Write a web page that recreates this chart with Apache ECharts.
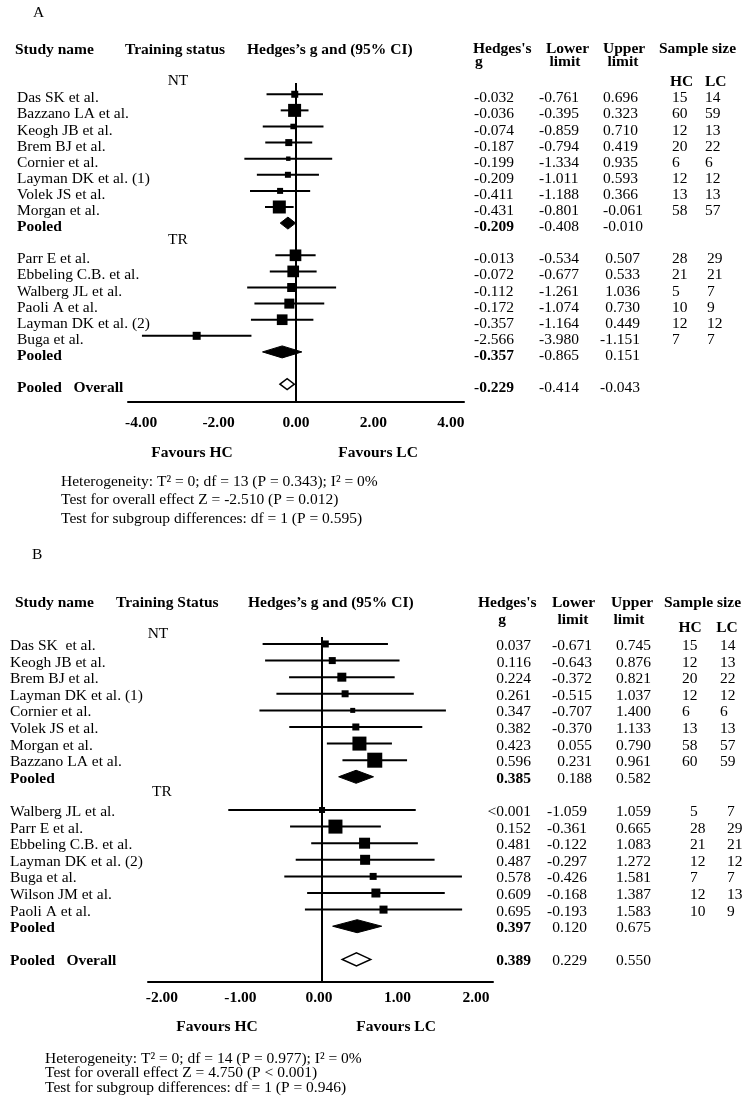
<!DOCTYPE html>
<html>
<head>
<meta charset="utf-8">
<script src="https://cdn.jsdelivr.net/npm/echarts@6/dist/echarts.min.js"></script>
<style>html,body{margin:0;padding:0;background:#fff}#c{width:749px;height:1107px}</style>
</head>
<body>
<div id="c"></div>
<script>
// ---------------- DATA: Panel A ----------------
const A_NT_names = ['Das SK et al.', 'Bazzano LA et al.', 'Keogh JB et al.', 'Brem BJ et al.', 'Cornier et al.', 'Layman DK et al. (1)', 'Volek JS et al.', 'Morgan et al.'];
const A_NT_g  = [-0.032, -0.036, -0.074, -0.187, -0.199, -0.209, -0.411, -0.431];
const A_NT_lo = [-0.761, -0.395, -0.859, -0.794, -1.334, -1.011, -1.188, -0.801];
const A_NT_hi = [0.696, 0.323, 0.710, 0.419, 0.935, 0.593, 0.366, -0.061];
const A_NT_hc = [15, 60, 12, 20, 6, 12, 13, 58];
const A_NT_lc = [14, 59, 13, 22, 6, 12, 13, 57];
const A_NT_weight = [4.5, 15.5, 2.8, 4.5, 1.8, 3.3, 3.3, 15.5];
const A_NT_pooled = [-0.209, -0.408, -0.010];

const A_TR_names = ['Parr E et al.', 'Ebbeling C.B. et al.', 'Walberg JL et al.', 'Paoli A et al.', 'Layman DK et al. (2)', 'Buga et al.'];
const A_TR_g  = [-0.013, -0.072, -0.112, -0.172, -0.357, -2.566];
const A_TR_lo = [-0.534, -0.677, -1.261, -1.074, -1.164, -3.980];
const A_TR_hi = [0.507, 0.533, 1.036, 0.730, 0.449, -1.151];
const A_TR_hc = [28, 21, 5, 10, 12, 7];
const A_TR_lc = [29, 21, 7, 9, 12, 7];
const A_TR_weight = [12.5, 12.5, 7.4, 9.2, 10.5, 5.9];
const A_TR_pooled = [-0.357, -0.865, 0.151];
const A_overall = [-0.229, -0.414, -0.043];
const A_tickValues = [-4, -2, 0, 2, 4];
const A_notes = ['Heterogeneity: T\u00B2 = 0; df = 13 (P = 0.343); I\u00B2 = 0%', 'Test for overall effect Z = -2.510 (P = 0.012)', 'Test for subgroup differences: df = 1 (P = 0.595)'];

// ---------------- DATA: Panel B ----------------
const B_NT_names = ['Das SK  et al.', 'Keogh JB et al.', 'Brem BJ et al.', 'Layman DK et al. (1)', 'Cornier et al.', 'Volek JS et al.', 'Morgan et al.', 'Bazzano LA et al.'];
const B_NT_g  = [0.037, 0.116, 0.224, 0.261, 0.347, 0.382, 0.423, 0.596];
const B_NT_lo = [-0.671, -0.643, -0.372, -0.515, -0.707, -0.370, 0.055, 0.231];
const B_NT_hi = [0.745, 0.876, 0.821, 1.037, 1.400, 1.133, 0.790, 0.961];
const B_NT_hc = [15, 12, 20, 12, 6, 13, 58, 60];
const B_NT_lc = [14, 13, 22, 12, 6, 13, 57, 59];
const B_NT_weight = [4.5, 4.5, 7.4, 4.5, 2.3, 4.5, 18, 20.7];
const B_NT_pooled = [0.385, 0.188, 0.582];

const B_TR_names = ['Walberg JL et al.', 'Parr E et al.', 'Ebbeling C.B. et al.', 'Layman DK et al. (2)', 'Buga et al.', 'Wilson JM et al.', 'Paoli A et al.'];
const B_TR_g  = [0.0004, 0.152, 0.481, 0.487, 0.578, 0.609, 0.695];
const B_TR_lo = [-1.059, -0.361, -0.122, -0.297, -0.426, -0.168, -0.193];
const B_TR_hi = [1.059, 0.665, 1.083, 1.272, 1.581, 1.387, 1.583];
const B_TR_hc = [5, 28, 21, 12, 7, 12, 10];
const B_TR_lc = [7, 29, 21, 12, 7, 13, 9];
const B_TR_weight = [3.3, 18, 11.1, 9.2, 4.5, 7.4, 5.9];
const B_TR_pooled = [0.397, 0.120, 0.675];
const B_overall = [0.389, 0.229, 0.550];
const B_tickValues = [-2, -1, 0, 1, 2];
const B_notes = ['Heterogeneity: T\u00B2 = 0; df = 14 (P = 0.977); I\u00B2 = 0%', 'Test for overall effect Z = 4.750 (P < 0.001)', 'Test for subgroup differences: df = 1 (P = 0.946)'];

// ---------------- LAYOUT / STYLE ----------------
const FAM = '"Liberation Serif","Times New Roman",serif';
const font = (size, bold) => (bold ? 'bold ' : '') + size + 'px ' + FAM;
const FS = 15.5;

const LAYOUT = {
  A: {
    grid: { left: 128, top: 83, width: 336, height: 319 },
    x: { min: -4.34, max: 4.34 },
    labelAxis: null,
    y: { min: -0.7, max: 19.11 },
    labelMargin: 13,
    textDy: 4,
    nameX: 17,
    groupRows: { NT: -1.1, TR: 8.8 },
    groupX: { NT: 178, TR: 178 },
    cols: {
      NT: { g: [474, 'left'], lo: [539, 'left'], hi: [603, 'left'], hc: [672, 'left'], lc: [705, 'left'] },
      TR: { g: [474, 'left'], lo: [539, 'left'], hi: [640, 'right'], hc: [672, 'left'], lc: [707, 'left'] }
    },
    boxScale: 3.3,
    diamondH: { pooled: 12, overall: 11 },
    headers: [
      ['A', 33, 13, false, 'left'],
      ['Study name', 15, 50, true, 'left'],
      ['Training status', 125, 50, true, 'left'],
      ['Hedges\u2019s g and (95% CI)', 247, 50, true, 'left'],
      ["Hedges's", 473, 49, true, 'left'],
      ['g', 475, 62, true, 'left'],
      ['Lower', 546, 49, true, 'left'],
      ['limit', 565, 62, true, 'center'],
      ['Upper', 603, 49, true, 'left'],
      ['limit', 623, 62, true, 'center'],
      ['Sample size', 659, 49, true, 'left'],
      ['HC', 670, 82, true, 'left'],
      ['LC', 705, 82, true, 'left'],
      ['Favours HC', 192, 453, true, 'center'],
      ['Favours LC', 378, 453, true, 'center']
    ],
    notesX: 61, notesY: [482, 500, 519]
  },
  B: {
    grid: { left: 148, top: 637, width: 345, height: 345 },
    x: { min: -1.966, max: 1.932 },
    labelAxis: { min: -2.178, max: 2.217 },
    y: { min: -0.42, max: 20.36 },
    labelMargin: 8,
    textDy: 2,
    nameX: 10,
    groupRows: { NT: -0.72, TR: 8.8 },
    groupX: { NT: 158, TR: 162 },
    cols: {
      NT: { g: [531, 'right'], lo: [592, 'right'], hi: [616, 'left'], hc: [682, 'left'], lc: [720, 'left'] },
      TR: { g: [531, 'right'], lo: [587, 'right'], hi: [616, 'left'], hc: [690, 'left'], lc: [727, 'left'] }
    },
    boxScale: 3.3,
    diamondH: { pooled: 13, overall: 13 },
    headers: [
      ['B', 32, 555, false, 'left'],
      ['Study name', 15, 603, true, 'left'],
      ['Training Status', 116, 603, true, 'left'],
      ['Hedges\u2019s g and (95% CI)', 248, 603, true, 'left'],
      ["Hedges's", 478, 603, true, 'left'],
      ['g', 502, 620, true, 'center'],
      ['Lower', 552, 603, true, 'left'],
      ['limit', 573, 620, true, 'center'],
      ['Upper', 611, 603, true, 'left'],
      ['limit', 629, 620, true, 'center'],
      ['Sample size', 664, 603, true, 'left'],
      ['HC', 690, 628, true, 'center'],
      ['LC', 727, 628, true, 'center'],
      ['Favours HC', 217, 1027, true, 'center'],
      ['Favours LC', 396, 1027, true, 'center']
    ],
    notesX: 45, notesY: [1059, 1073, 1088]
  }
};

// ---------------- BUILD ----------------
function buildRows(d, L) {
  const rows = [];
  let r = 0;
  rows.push({ kind: 'group', label: 'NT', row: L.groupRows.NT, sec: 'NT' });
  d.NT.names.forEach((n, i) => rows.push({ kind: 'study', sec: 'NT', name: n, g: d.NT.g[i], lo: d.NT.lo[i], hi: d.NT.hi[i], hc: d.NT.hc[i], lc: d.NT.lc[i], w: d.NT.w[i], row: r++ }));
  rows.push({ kind: 'pooled', sec: 'NT', name: 'Pooled', g: d.NT.pooled[0], lo: d.NT.pooled[1], hi: d.NT.pooled[2], row: r++ });
  rows.push({ kind: 'group', label: 'TR', row: L.groupRows.TR, sec: 'TR' }); r++;
  d.TR.names.forEach((n, i) => rows.push({ kind: 'study', sec: 'TR', name: n, g: d.TR.g[i], lo: d.TR.lo[i], hi: d.TR.hi[i], hc: d.TR.hc[i], lc: d.TR.lc[i], w: d.TR.w[i], row: r++ }));
  rows.push({ kind: 'pooled', sec: 'TR', name: 'Pooled', g: d.TR.pooled[0], lo: d.TR.pooled[1], hi: d.TR.pooled[2], row: r++ });
  r++;
  rows.push({ kind: 'overall', sec: 'TR', name: 'Pooled   Overall', g: d.overall[0], lo: d.overall[1], hi: d.overall[2], row: r });
  return rows;
}

const fmt = v => (v > 0 && v < 0.001) ? '<0.001' : v.toFixed(3);

const panels = {
  A: { NT: { names: A_NT_names, g: A_NT_g, lo: A_NT_lo, hi: A_NT_hi, hc: A_NT_hc, lc: A_NT_lc, w: A_NT_weight, pooled: A_NT_pooled },
       TR: { names: A_TR_names, g: A_TR_g, lo: A_TR_lo, hi: A_TR_hi, hc: A_TR_hc, lc: A_TR_lc, w: A_TR_weight, pooled: A_TR_pooled },
       overall: A_overall, ticks: A_tickValues, notes: A_notes },
  B: { NT: { names: B_NT_names, g: B_NT_g, lo: B_NT_lo, hi: B_NT_hi, hc: B_NT_hc, lc: B_NT_lc, w: B_NT_weight, pooled: B_NT_pooled },
       TR: { names: B_TR_names, g: B_TR_g, lo: B_TR_lo, hi: B_TR_hi, hc: B_TR_hc, lc: B_TR_lc, w: B_TR_weight, pooled: B_TR_pooled },
       overall: B_overall, ticks: B_tickValues, notes: B_notes }
};

const option = { animation: false, backgroundColor: '#fff', grid: [], xAxis: [], yAxis: [], series: [], graphic: [] };
const KIND = { study: 0, pooled: 1, overall: 2 };

['A', 'B'].forEach((key, gi) => {
  const d = panels[key], L = LAYOUT[key];
  const rows = buildRows(d, L);
  option.grid.push(Object.assign({ containLabel: false }, L.grid));

  const labelStyle = { show: true, color: '#000', fontFamily: FAM, fontWeight: 'bold', fontSize: FS, margin: L.labelMargin, customValues: d.ticks, formatter: v => v.toFixed(2) };
  const dataXi = option.xAxis.length;
  option.xAxis.push({
    type: 'value', gridIndex: gi, position: 'bottom', min: L.x.min, max: L.x.max,
    axisLine: { show: true, onZero: false, lineStyle: { color: '#000', width: 2 } },
    axisTick: { show: false }, splitLine: { show: false },
    axisLabel: L.labelAxis ? { show: false } : labelStyle
  });
  if (L.labelAxis) {
    option.xAxis.push({
      type: 'value', gridIndex: gi, position: 'bottom', offset: 0, min: L.labelAxis.min, max: L.labelAxis.max,
      axisLine: { show: false }, axisTick: { show: false }, splitLine: { show: false },
      axisLabel: labelStyle
    });
  }
  const yi = option.yAxis.length;
  option.yAxis.push({ type: 'value', gridIndex: gi, inverse: true, min: L.y.min, max: L.y.max, show: false, splitLine: { show: false } });

  const marks = rows.filter(r => r.kind !== 'group');
  option.series.push({
    type: 'custom', name: 'forest' + key, xAxisIndex: dataXi, yAxisIndex: yi, silent: true, clip: false,
    data: marks.map(m => [m.g, m.row, m.lo, m.hi, m.w || 0, KIND[m.kind]]),
    renderItem: (params, api) => {
      const g = api.value(0), row = api.value(1), lo = api.value(2), hi = api.value(3), w = api.value(4), k = api.value(5);
      const c = api.coord([g, row]), pl = api.coord([lo, row]), ph = api.coord([hi, row]);
      if (k === 0) {
        const s = Math.sqrt(w) * L.boxScale;
        return { type: 'group', children: [
          { type: 'line', shape: { x1: pl[0], y1: c[1], x2: ph[0], y2: c[1] }, style: { stroke: '#000', lineWidth: 2 } },
          { type: 'rect', shape: { x: c[0] - s / 2, y: c[1] - s / 2, width: s, height: s }, style: { fill: '#000' } }
        ] };
      }
      const h = (k === 1 ? L.diamondH.pooled : L.diamondH.overall) / 2;
      return { type: 'polygon', shape: { points: [[pl[0], c[1]], [c[0], c[1] - h], [ph[0], c[1]], [c[0], c[1] + h]] },
        style: k === 1 ? { fill: '#000', stroke: '#000', lineWidth: 1 } : { fill: '#fff', stroke: '#000', lineWidth: 1.5 } };
    },
    markLine: { silent: true, symbol: ['none', 'none'], label: { show: false }, lineStyle: { color: '#000', width: 2, type: 'solid' }, data: [{ xAxis: 0 }] }
  });

  // table text
  option.series.push({
    type: 'custom', name: 'table' + key, xAxisIndex: dataXi, yAxisIndex: yi, silent: true, clip: false,
    data: rows.map((r, i) => [0, r.row, i]),
    renderItem: (params, api) => {
      const r = rows[api.value(2)];
      const y = api.coord([0, r.row])[1] + L.textDy;
      const t = (text, x, align, bold) => ({ type: 'text', style: { text: text, x: x, y: y, align: align, verticalAlign: 'middle', font: font(FS, bold), fill: '#000' } });
      if (r.kind === 'group') return t(r.label, L.groupX[r.sec], 'center', false);
      const cols = L.cols[r.sec];
      const bold = r.kind !== 'study';
      const ch = [t(r.name, L.nameX, 'left', bold),
        t(fmt(r.g), cols.g[0], cols.g[1], bold),
        t(fmt(r.lo), cols.lo[0], cols.lo[1], false),
        t(fmt(r.hi), cols.hi[0], cols.hi[1], false)];
      if (r.kind === 'study') {
        ch.push(t(String(r.hc), cols.hc[0], cols.hc[1], false));
        ch.push(t(String(r.lc), cols.lc[0], cols.lc[1], false));
      }
      return { type: 'group', children: ch };
    }
  });

  L.headers.forEach(h => option.graphic.push({ type: 'text', x: h[1], y: h[2], silent: true,
    style: { text: h[0], font: font(FS, h[3]), fill: '#000', align: h[4], verticalAlign: 'middle' } }));
  d.notes.forEach((n, i) => option.graphic.push({ type: 'text', x: L.notesX, y: L.notesY[i], silent: true,
    style: { text: n, font: font(FS, false), fill: '#000', align: 'left', verticalAlign: 'middle' } }));
});

const chart = echarts.init(document.getElementById('c'), null, { renderer: 'canvas' });
chart.setOption(option);
</script>
</body>
</html>
